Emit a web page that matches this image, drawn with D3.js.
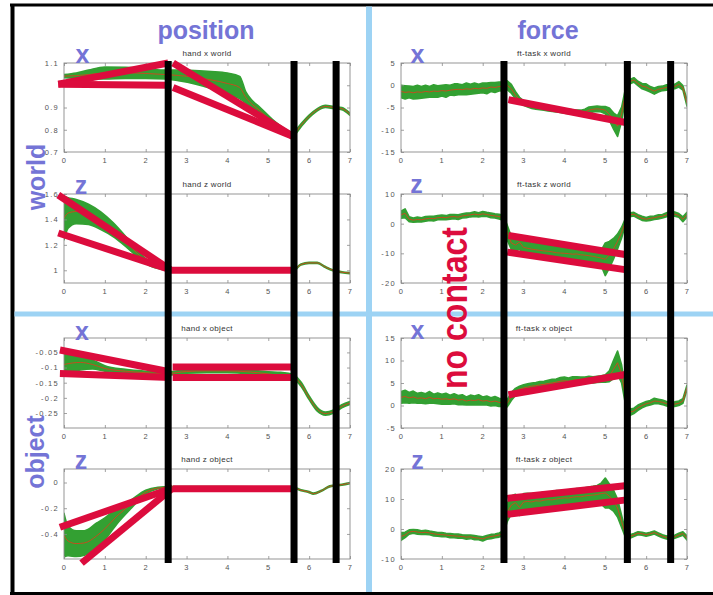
<!DOCTYPE html>
<html>
<head>
<meta charset="utf-8">
<script src="https://cdn.jsdelivr.net/npm/d3@7"></script>
<style>
  body { margin: 0; background: #fff; }
  svg { display: block; }
</style>
</head>
<body>
<svg id="chart" width="713" height="595"></svg>
<script>
// ---------------- data ----------------
const xTicks = [0, 1, 2, 3, 4, 5, 6, 7];

// hand x world
const hxwTime = [0, 0.3, 0.6, 1.0, 1.5, 2.0, 2.5, 2.8, 3.2, 3.6, 4.0, 4.3, 4.45, 4.6, 4.8, 5.1, 5.4, 5.6, 5.8, 6.0, 6.2, 6.4, 6.6, 6.8, 7.0];
const hxwMean = [1.041, 1.043, 1.048, 1.055, 1.056, 1.053, 1.048, 1.044, 1.036, 1.024, 1.008, 0.99, 0.945, 0.915, 0.885, 0.835, 0.795, 0.78, 0.82, 0.86, 0.89, 0.905, 0.9, 0.895, 0.87];
const hxwStd  = [0.007, 0.012, 0.02, 0.027, 0.025, 0.022, 0.02, 0.024, 0.03, 0.038, 0.047, 0.05, 0.025, 0.018, 0.015, 0.012, 0.01, 0.008, 0.007, 0.006, 0.005, 0.005, 0.005, 0.005, 0.005];
const hxwTrend = [[-0.14, 1.005, 2.55, 1.1], [-0.14, 1.005, 2.55, 1.0], [2.67, 1.1, 5.61, 0.77], [2.67, 0.99, 5.61, 0.77]];
const hxwTicks = [0.7, 0.8, 0.9, 1, 1.1];
const hxwTickLabels = ["0.7", "0.8", "0.9", "", "1.1"];

// hand z world
const hzwTime = [0, 0.1, 0.3, 0.6, 0.9, 1.2, 1.5, 1.8, 2.1, 2.4, 2.6, 3.5, 4.5, 5.6, 5.8, 6.0, 6.2, 6.4, 6.6, 6.8, 7.0];
const hzwMean = [1.41, 1.45, 1.462, 1.44, 1.39, 1.32, 1.23, 1.13, 1.05, 1.015, 1.005, 1.0, 1.0, 1.0, 1.045, 1.058, 1.058, 1.025, 0.998, 0.985, 0.978];
const hzwStd  = [0.17, 0.12, 0.095, 0.08, 0.07, 0.055, 0.04, 0.025, 0.015, 0.008, 0.005, 0.004, 0.004, 0.004, 0.004, 0.004, 0.004, 0.004, 0.004, 0.004, 0.004];
const hzwTrend = [[-0.14, 1.592, 2.6, 1.005], [-0.14, 1.293, 2.6, 1.005], [2.6, 1.0, 5.61, 1.0]];
const hzwTicks = [1, 1.2, 1.4, 1.6];
const hzwTickLabels = ["1", "1.2", "1.4", "1.6"];

// hand x object
const hxoTime = [0, 0.2, 0.4, 0.7, 1.0, 1.5, 2.0, 2.5, 3.0, 3.5, 4.0, 4.5, 5.0, 5.3, 5.6, 5.8, 6.0, 6.2, 6.4, 6.6, 6.8, 7.0];
const hxoMean = [-0.09, -0.085, -0.083, -0.09, -0.103, -0.112, -0.117, -0.12, -0.113, -0.111, -0.111, -0.114, -0.121, -0.126, -0.13, -0.155, -0.2, -0.238, -0.252, -0.245, -0.228, -0.217];
const hxoStd  = [0.035, 0.03, 0.025, 0.015, 0.009, 0.006, 0.005, 0.005, 0.006, 0.006, 0.006, 0.006, 0.007, 0.01, 0.008, 0.007, 0.006, 0.006, 0.005, 0.005, 0.005, 0.005];
const hxoTrend = [[-0.1, -0.042, 2.55, -0.113], [-0.1, -0.12, 2.6, -0.133], [2.66, -0.098, 5.61, -0.098], [2.66, -0.133, 5.61, -0.133]];
const hxoTicks = [-0.25, -0.2, -0.15, -0.1, -0.05];
const hxoTickLabels = ["-0.25", "-0.2", "-0.15", "-0.1", "-0.05"];

// hand z object
const hzoTime = [0, 0.1, 0.3, 0.5, 0.8, 1.0, 1.3, 1.6, 2.0, 2.3, 2.6, 4.0, 5.6, 5.8, 6.0, 6.1, 6.3, 6.5, 6.8, 7.0];
const hzoMean = [-0.41, -0.455, -0.475, -0.47, -0.415, -0.36, -0.26, -0.18, -0.075, -0.043, -0.035, -0.035, -0.04, -0.06, -0.075, -0.087, -0.065, -0.03, -0.017, -0.005];
const hzoStd  = [0.17, 0.115, 0.1, 0.095, 0.1, 0.085, 0.06, 0.035, 0.015, 0.006, 0.004, 0.003, 0.004, 0.004, 0.004, 0.004, 0.004, 0.004, 0.004, 0.004];
const hzoTrend = [[-0.1, -0.348, 2.66, -0.043], [0.43, -0.627, 2.66, -0.043], [2.66, -0.048, 5.61, -0.048]];
const hzoTicks = [-0.4, -0.2, 0];
const hzoTickLabels = ["-0.4", "-0.2", "0"];

// force recordings, sampled every 0.1 s
const forceTime = d3.range(71).map(i => i / 10);

// ft-task x world
const fxwMean = [-1.4, -1.6, -1.5, -1.7, -1.5, -1.6, -1.4, -1.5, -1.3, -1.4,
  -1.2, -1.3, -1.1, -1.0, -0.9, -1.0, -0.8, -0.9, -0.7, -0.8,
  -0.6, -0.7, -0.4, -0.5, -0.3, -0.2, 0.0, -0.8, -2.2, -3.3,
  -4.0, -4.4, -4.7, -4.9, -5.0, -5.1, -5.3, -5.4, -5.5, -5.6,
  -5.8, -5.9, -6.0, -6.1, -6.1, -6.0, -5.6, -5.4, -5.3, -5.4,
  -5.6, -6.5, -8.0, -9.2, -6.5, -1.5, 0.8, 1.2, 0.4, -0.2,
  -0.4, -0.9, -1.3, -0.9, -0.7, -0.5, -0.4, -0.3, 0.2, -0.6,
  -4.0];
const fxwStd = [1.4, 1.5, 1.3, 1.4, 1.5, 1.3, 1.4, 1.2, 1.4, 1.3,
  1.2, 1.4, 1.1, 1.3, 1.2, 1.1, 1.3, 1.1, 1.2, 1.0,
  1.1, 1.2, 1.0, 1.1, 1.0, 1.0, 1.0, 1.0, 0.8, 0.6,
  0.5, 0.5, 0.5, 0.5, 0.5, 0.5, 0.5, 0.5, 0.5, 0.5,
  0.5, 0.5, 0.5, 0.5, 0.5, 0.6, 0.7, 0.6, 0.6, 0.6,
  0.8, 1.4, 1.8, 2.3, 1.6, 1.0, 0.5, 0.5, 0.5, 0.6,
  0.7, 0.6, 0.7, 0.6, 0.5, 0.6, 0.5, 0.5, 0.6, 0.5,
  0.7];
const fxwTrend = [[2.63, -3.24, 5.56, -8.48]];
const fxwTicks = [-15, -10, -5, 0, 5];
const fxwTickLabels = ["-15", "-10", "-5", "0", "5"];

// ft-task z world
const fzwMean = [3.0, 3.5, 1.5, 1.2, 1.4, 1.3, 1.6, 1.8, 1.7, 2.0,
  2.1, 2.0, 2.3, 2.4, 2.2, 2.6, 2.8, 3.0, 3.2, 3.0,
  3.3, 3.1, 2.8, 2.6, 2.4, 2.0, -3.0, -6.5, -7.2, -6.2,
  -8.0, -8.3, -8.6, -8.8, -9.0, -9.2, -9.3, -9.5, -9.8, -9.9,
  -10.0, -10.1, -10.3, -10.2, -10.5, -10.6, -10.8, -11.0, -11.3, -11.6,
  -12.0, -10.5, -8.5, -6.0, -3.0, 1.0, 3.0, 3.2, 2.4, 1.8,
  1.5, 1.8, 2.0, 2.3, 2.5, 3.0, 3.5, 3.2, 2.8, 1.5,
  3.0];
const fzwStd = [1.2, 1.5, 0.8, 0.7, 0.8, 0.7, 0.8, 0.7, 0.8, 0.7,
  0.8, 0.7, 0.8, 0.7, 0.8, 0.7, 0.8, 0.7, 0.8, 0.7,
  0.8, 0.7, 0.8, 0.7, 0.8, 0.8, 2.5, 2.2, 2.0, 2.4,
  2.2, 2.0, 2.1, 2.2, 2.0, 2.1, 2.2, 2.0, 2.1, 2.2,
  2.0, 2.1, 2.2, 2.0, 2.2, 2.3, 2.4, 2.3, 2.5, 2.6,
  5.5, 4.5, 3.5, 2.5, 1.8, 1.0, 0.7, 0.6, 0.6, 0.7,
  0.6, 0.7, 0.6, 0.7, 0.6, 0.7, 0.8, 0.7, 0.6, 0.8,
  0.8];
const fzwTrend = [[2.63, -4.0, 5.52, -10.5], [2.6, -9.6, 5.48, -15.5]];
const fzwTicks = [-20, -10, 0, 10];
const fzwTickLabels = ["-20", "-10", "0", "10"];

// ft-task x object
const fxoMean = [1.8, 2.0, 1.7, 1.9, 1.6, 1.7, 1.5, 1.8, 1.5, 1.6,
  1.4, 1.5, 1.3, 1.5, 1.2, 1.3, 1.0, 1.2, 1.1, 1.3,
  1.0, 1.1, 0.8, 1.0, 0.7, 0.6, 0.5, 2.0, 3.0, 3.6,
  3.9, 4.1, 4.3, 4.4, 4.6, 4.7, 4.9, 5.0, 5.2, 5.4,
  5.5, 5.4, 5.6, 5.7, 5.5, 5.6, 5.8, 5.7, 5.8, 5.9,
  6.0, 6.5, 8.0, 9.5, 7.0, 1.5, -1.5, -1.2, -0.5, 0.0,
  0.4, 0.6, 1.0, 0.9, 0.7, 0.4, 0.2, 0.3, 0.5, 1.0,
  4.0];
const fxoStd = [1.3, 1.4, 1.2, 1.3, 1.1, 1.2, 1.1, 1.3, 1.0, 1.2,
  1.1, 1.2, 1.0, 1.1, 1.0, 1.1, 0.9, 1.1, 1.0, 1.1,
  0.9, 1.0, 0.9, 1.0, 0.9, 0.8, 0.8, 0.9, 0.8, 0.7,
  0.7, 0.7, 0.7, 0.7, 0.7, 0.7, 0.7, 0.8, 0.7, 0.8,
  0.8, 0.7, 0.8, 0.7, 0.8, 0.7, 0.7, 0.7, 0.7, 0.7,
  0.8, 1.2, 2.0, 2.6, 2.0, 1.5, 0.7, 0.6, 0.6, 0.5,
  0.5, 0.5, 0.6, 0.5, 0.5, 0.5, 0.5, 0.5, 0.5, 0.5,
  0.5];
const fxoTrend = [[2.63, 2.4, 5.56, 7.0]];
const fxoTicks = [-5, 0, 5, 10, 15];
const fxoTickLabels = ["-5", "0", "5", "10", "15"];

// ft-task z object
const fzoMean = [-2.5, -2.0, -1.0, -0.8, -1.0, -1.2, -1.1, -1.3, -1.6, -1.8,
  -1.9, -2.0, -2.2, -2.3, -2.4, -2.5, -2.7, -2.6, -2.9, -3.0,
  -3.3, -2.8, -2.5, -2.3, -2.0, -1.5, 5.5, 8.0, 8.8, 7.2,
  9.0, 9.2, 9.0, 9.4, 9.3, 9.6, 9.8, 9.7, 10.0, 10.2,
  10.4, 10.3, 10.6, 10.8, 10.7, 11.0, 11.2, 11.3, 11.5, 11.8,
  12.0, 11.0, 9.5, 7.0, 2.5, -2.0, -2.5, -2.0, -1.4, -1.6,
  -1.9, -1.6, -1.2, -1.8, -2.4, -2.8, -3.0, -2.6, -2.0, -1.5,
  -3.0];
const fzoStd = [1.3, 0.9, 0.7, 0.6, 0.7, 0.6, 0.7, 0.6, 0.7, 0.6,
  0.7, 0.6, 0.7, 0.6, 0.7, 0.6, 0.7, 0.6, 0.7, 0.6,
  0.7, 0.6, 0.7, 0.6, 0.7, 0.8, 3.0, 3.0, 2.8, 2.7,
  2.8, 2.7, 2.8, 2.6, 2.7, 2.8, 2.6, 2.7, 2.8, 2.6,
  2.7, 2.8, 2.6, 2.7, 2.8, 2.7, 2.8, 2.9, 3.0, 3.5,
  5.0, 4.0, 3.5, 3.0, 2.0, 1.0, 0.6, 0.5, 0.5, 0.5,
  0.5, 0.5, 0.5, 0.5, 0.5, 0.5, 0.5, 0.5, 0.6, 0.6,
  0.7];
const fzoTrend = [[2.6, 10.2, 5.48, 14.4], [2.6, 4.9, 5.52, 9.7]];
const fzoTicks = [-10, 0, 10, 20];
const fzoTickLabels = ["-10", "0", "10", "20"];

// phase boundaries (s) for the position and force columns
const positionEvents = [2.55, 5.63, 6.66];
const forceEvents = [2.52, 5.54, 6.6];

// ---------------- layout & style ----------------
const BLUE_TEXT = "#7474d6";
const LIGHT_BLUE = "#9dd3f4";
const CRIMSON = "#dc0c3d";
const GREEN = "#33a032";
const MEAN_RED = "#d2451c";
const FONT = "'Liberation Sans', Arial, Helvetica, sans-serif";

const cols = [{ x0: 64, x1: 350 }, { x0: 401, x1: 687 }];
const rows = [[63, 152], [194, 283], [338, 428], [469, 559]];

const panels = [
  { title: "hand x world", col: 0, row: 0, domain: [0.7, 1.1], ticks: hxwTicks, labels: hxwTickLabels, t: hxwTime, mean: hxwMean, sd: hxwStd, trend: hxwTrend, smooth: true },
  { title: "hand z world", col: 0, row: 1, domain: [0.9, 1.6], ticks: hzwTicks, labels: hzwTickLabels, t: hzwTime, mean: hzwMean, sd: hzwStd, trend: hzwTrend, smooth: true },
  { title: "hand x object", col: 0, row: 2, domain: [-0.2995, -0.0025], ticks: hxoTicks, labels: hxoTickLabels, t: hxoTime, mean: hxoMean, sd: hxoStd, trend: hxoTrend, smooth: true },
  { title: "hand z object", col: 0, row: 3, domain: [-0.595, 0.105], ticks: hzoTicks, labels: hzoTickLabels, t: hzoTime, mean: hzoMean, sd: hzoStd, trend: hzoTrend, smooth: true },
  { title: "ft-task x world", col: 1, row: 0, domain: [-15, 5], ticks: fxwTicks, labels: fxwTickLabels, t: forceTime, mean: fxwMean, sd: fxwStd, trend: fxwTrend, smooth: false },
  { title: "ft-task z world", col: 1, row: 1, domain: [-20, 10], ticks: fzwTicks, labels: fzwTickLabels, t: forceTime, mean: fzwMean, sd: fzwStd, trend: fzwTrend, smooth: false },
  { title: "ft-task x object", col: 1, row: 2, domain: [-5, 15], ticks: fxoTicks, labels: fxoTickLabels, t: forceTime, mean: fxoMean, sd: fxoStd, trend: fxoTrend, smooth: false },
  { title: "ft-task z object", col: 1, row: 3, domain: [-10, 20], ticks: fzoTicks, labels: fzoTickLabels, t: forceTime, mean: fzoMean, sd: fzoStd, trend: fzoTrend, smooth: false }
];

const svg = d3.select("#chart");
svg.append("rect").attr("width", 713).attr("height", 595).attr("fill", "#fff");

// outer frame
svg.append("line").attr("x1", 10).attr("x2", 713).attr("y1", 5).attr("y2", 5)
  .attr("stroke", "#000").attr("stroke-width", 3);
svg.append("line").attr("x1", 12.5).attr("x2", 12.5).attr("y1", 4).attr("y2", 595)
  .attr("stroke", "#000").attr("stroke-width", 4);
svg.append("line").attr("x1", 10).attr("x2", 713).attr("y1", 593.5).attr("y2", 593.5)
  .attr("stroke", "#000").attr("stroke-width", 3);

// quadrant separators
svg.append("line").attr("x1", 369).attr("x2", 369).attr("y1", 6.5).attr("y2", 592)
  .attr("stroke", LIGHT_BLUE).attr("stroke-width", 6);
svg.append("line").attr("x1", 14.5).attr("x2", 713).attr("y1", 314).attr("y2", 314)
  .attr("stroke", LIGHT_BLUE).attr("stroke-width", 5);

const defs = svg.append("defs");

function styleAxis(sel) {
  sel.select(".domain").remove();
  sel.selectAll(".tick line").attr("stroke", "#8a8a8a").attr("stroke-width", 0.8);
  sel.selectAll(".tick text")
    .attr("fill", "#555")
    .attr("font-size", 7.5)
    .attr("font-family", FONT)
    .attr("letter-spacing", 1.3);
}

panels.forEach((p, i) => {
  const c = cols[p.col], r = rows[p.row];
  const x = d3.scaleLinear().domain([0, 7]).range([c.x0, c.x1]);
  const y = d3.scaleLinear().domain(p.domain).range([r[1], r[0]]);
  const g = svg.append("g").attr("class", "panel");

  const clipId = "plotclip" + i;
  defs.append("clipPath").attr("id", clipId)
    .append("rect").attr("x", c.x0).attr("y", r[0])
    .attr("width", c.x1 - c.x0).attr("height", r[1] - r[0]);

  const curve = p.smooth ? d3.curveMonotoneX : d3.curveLinear;
  const band = d3.area()
    .x((d, k) => x(p.t[k]))
    .y0((d, k) => y(p.mean[k] - p.sd[k]))
    .y1((d, k) => y(p.mean[k] + p.sd[k]))
    .curve(curve);
  const meanLine = d3.line()
    .x((d, k) => x(p.t[k]))
    .y(d => y(d))
    .curve(curve);

  const plot = g.append("g").attr("clip-path", `url(#${clipId})`);
  plot.append("path").datum(p.mean).attr("d", band)
    .attr("fill", GREEN).attr("stroke", GREEN).attr("stroke-width", 1.6)
    .attr("stroke-linejoin", "round");
  plot.append("path").datum(p.mean).attr("d", meanLine)
    .attr("fill", "none").attr("stroke", MEAN_RED).attr("stroke-width", 0.9);

  // box
  g.append("rect").attr("x", c.x0).attr("y", r[0])
    .attr("width", c.x1 - c.x0).attr("height", r[1] - r[0])
    .attr("fill", "none").attr("stroke", "#8a8a8a").attr("stroke-width", 0.9);

  // axes with inward ticks on all four sides
  g.append("g").attr("transform", `translate(0,${r[1]})`)
    .call(d3.axisBottom(x).tickValues(xTicks).tickSize(-3).tickPadding(6).tickFormat(d => String(d)))
    .call(styleAxis);
  g.append("g").attr("transform", `translate(0,${r[0]})`)
    .call(d3.axisTop(x).tickValues(xTicks).tickSize(-3).tickFormat(""))
    .call(styleAxis);
  g.append("g").attr("transform", `translate(${c.x0},0)`)
    .call(d3.axisLeft(y).tickValues(p.ticks).tickSize(-3).tickPadding(5)
      .tickFormat((d, k) => p.labels[k]))
    .call(styleAxis);
  g.append("g").attr("transform", `translate(${c.x1},0)`)
    .call(d3.axisRight(y).tickValues(p.ticks).tickSize(-3).tickFormat(""))
    .call(styleAxis);

  // title
  g.append("text").attr("x", (c.x0 + c.x1) / 2).attr("y", r[0] - 7.5)
    .attr("text-anchor", "middle").attr("font-size", 8).attr("font-family", FONT)
    .attr("letter-spacing", 0.3).attr("fill", "#333").text(p.title);

  // linear trend segments
  g.selectAll("line.trend").data(p.trend).join("line").attr("class", "trend")
    .attr("x1", d => x(d[0])).attr("y1", d => y(d[1]))
    .attr("x2", d => x(d[2])).attr("y2", d => y(d[3]))
    .attr("stroke", CRIMSON).attr("stroke-width", 7);
});

// phase boundary bars spanning each column
const barTop = 61, barBottom = 563;
[[positionEvents, cols[0]], [forceEvents, cols[1]]].forEach(([events, c]) => {
  const x = d3.scaleLinear().domain([0, 7]).range([c.x0, c.x1]);
  svg.selectAll(null).data(events).join("rect")
    .attr("x", d => x(d) - 3.5).attr("y", barTop)
    .attr("width", 7).attr("height", barBottom - barTop)
    .attr("fill", "#000");
});

// headings
const heading = (txt, xx, yy, size, rotate) => {
  const t = svg.append("text")
    .attr("font-family", FONT).attr("font-weight", "bold")
    .attr("font-size", size).attr("fill", BLUE_TEXT)
    .attr("text-anchor", "middle").text(txt);
  if (rotate) t.attr("transform", `translate(${xx},${yy}) rotate(-90)`);
  else t.attr("x", xx).attr("y", yy);
  return t;
};
heading("position", 206, 39, 25);
heading("force", 548, 39, 25);
heading("world", 45, 177, 25, true);
heading("object", 44, 452, 25, true);

const axisLabels = [
  ["x", 82.5, 63], ["z", 81, 194], ["x", 82, 340], ["z", 81, 469],
  ["x", 417.5, 63], ["z", 416.5, 193], ["x", 417.5, 339], ["z", 417.5, 469]
];
axisLabels.forEach(([t, xx, yy]) => heading(t, xx, yy, 25));

svg.append("text")
  .attr("transform", "translate(467,308) rotate(-90)")
  .attr("text-anchor", "middle")
  .attr("font-family", FONT).attr("font-weight", "bold")
  .attr("font-size", 37).attr("fill", CRIMSON)
  .attr("textLength", 162).attr("lengthAdjust", "spacingAndGlyphs")
  .text("no contact");
</script>
</body>
</html>
